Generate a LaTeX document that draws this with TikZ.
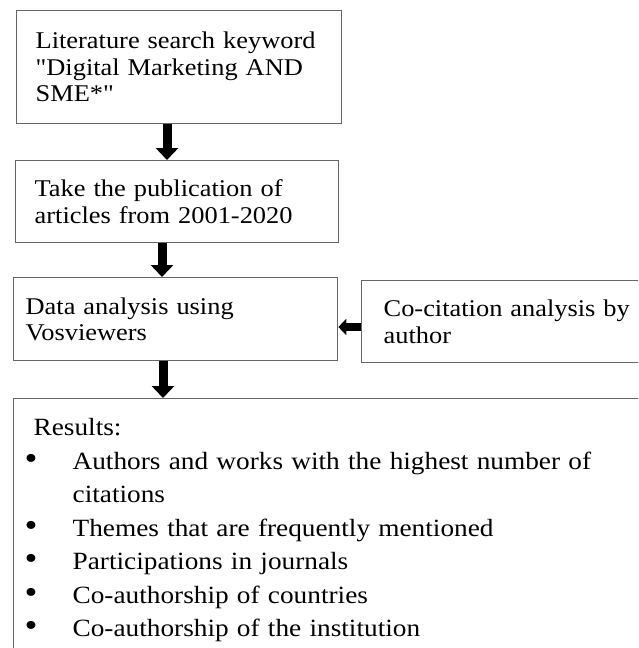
\documentclass[tikz,border=0pt]{standalone}
\usepackage{fontspec}
\setmainfont[FakeStretch=1.1, Ligatures=TeXOff]{Liberation Serif}
\usepackage{tikz}
\usetikzlibrary{arrows.meta,calc}
\definecolor{boxgray}{gray}{0.4}
\tikzstyle{flowbox}=[draw=boxgray, line width=1.3pt, anchor=north west, align=left, inner ysep=0pt, font=\fontsize{24}{26.5}\selectfont]
\tikzstyle{fat>}=[line width=9pt, -{Triangle[width=22pt,length=12pt]}]
\tikzstyle{side>}=[line width=8pt, -{Triangle[width=16pt,length=8pt]}]
\newcommand{\resbullet}{\hspace*{-9pt}\makebox[48pt][l]{\scalebox{1.35}{\textbullet}}}
\begin{document}
\begin{tikzpicture}[x=1pt,y=-1pt]
\useasboundingbox (0,0) rectangle (638,648);
\clip (0,0) rectangle (638,648);
\node[flowbox, inner xsep=19pt, text width=287pt, minimum height=113pt] (lit) at (16,10)
  {Literature search keyword\\ "Digital Marketing AND\\ SME*"};
\node[flowbox, inner xsep=19pt, text width=285pt, minimum height=82pt] (take) at (15,160)
  {Take the publication of\\ articles from 2001-2020};
\node[flowbox, inner xsep=12pt, text width=300pt, minimum height=83pt] (data) at (13,277)
  {Data analysis using\\ Vosviewers};
\node[flowbox, inner xsep=22pt, text width=270pt, minimum height=82pt] (cocit) at (361,280)
  {Co-citation analysis by\\ author};
\node[flowbox, inner xsep=20pt, inner ysep=20pt, text width=620pt, font=\fontsize{24.8}{33.5}\selectfont] (res) at (13,398)
  {Results:\\
   \resbullet Authors and works with the highest number of\\
   \hspace*{39pt}citations\\
   \resbullet Themes that are frequently mentioned\\
   \resbullet Participations in journals\\
   \resbullet Co-authorship of countries\\
   \resbullet Co-authorship of the institution};
\coordinate (ax1) at (167,0);
\coordinate (ax2) at (162,0);
\coordinate (ax3) at (163,0);
\coordinate (ay) at (0,327);
\draw[fat>] (lit.south -| ax1) -- (take.north -| ax1);
\draw[fat>] (take.south -| ax2) -- (data.north -| ax2);
\draw[fat>] (data.south -| ax3) -- (res.north -| ax3);
\draw[side>] (cocit.west |- ay) -- (data.east |- ay);
\end{tikzpicture}
\end{document}
